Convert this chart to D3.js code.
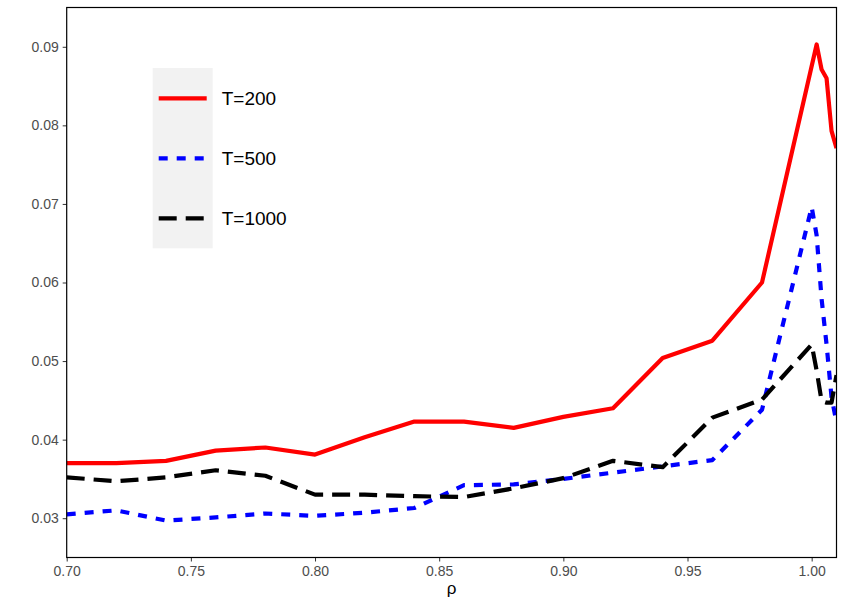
<!DOCTYPE html>
<html>
<head>
    <meta charset="utf-8">
    <style type="text/css">
        body {
            margin: 0;
            background: white;
        }
        text {
            font-family: "Liberation Sans", Arial, Helvetica, sans-serif;
        }
        .tick text {
            fill: #4d4d4d;
            font-size: 14px;
        }
        .tick line {
            stroke: #333;
        }
        path.series {
            fill: none;
            stroke-linecap: butt;
            stroke-linejoin: round;
        }
    </style>
</head>
<body>
<svg id="chart"></svg>
<script src="https://d3js.org/d3.v7.min.js"></script>
<script type="text/javascript">
// rho grid shared by all three series
var rho = [0.70, 0.72, 0.74, 0.76, 0.78, 0.80, 0.82, 0.84, 0.86, 0.88,
    0.90, 0.92, 0.94, 0.96, 0.98, 1.00, 1.002, 1.004, 1.006, 1.008, 1.01];

// null = no point read at that rho
var t200 = [0.0370, 0.0370, 0.0373, 0.0386, 0.0390, 0.0381, 0.0403, 0.0423, 0.0423, 0.0415,
    0.0429, 0.0440, 0.0504, 0.0526, 0.0600, null, 0.0903, 0.0871, 0.0860, 0.0793, 0.0771];
var t500 = [0.0305, 0.0310, 0.0297, 0.0301, 0.0306, 0.0303, 0.0307, 0.0313, 0.0342, 0.0343,
    0.0350, 0.0358, 0.0366, 0.0374, 0.0438, 0.0696, 0.0660, 0.0579, 0.0521, 0.0454, 0.0422];
var t1000 = [0.0352, 0.0347, 0.0352, 0.0361, 0.0354, 0.0330, 0.0330, 0.0328, 0.0327, 0.0338,
    0.0351, 0.0373, 0.0365, 0.0428, 0.0451, 0.0521, 0.0488, 0.0449, 0.0447, 0.0447, 0.0482];

var seriesNames = ["T=200", "T=500", "T=1000"];
var seriesColors = ["#ff0000", "#0000ff", "#000000"];
var seriesDash = [null, "9,9", "18,9"];

var xTicks = [0.70, 0.75, 0.80, 0.85, 0.90, 0.95, 1.00];
var yTicks = [0.03, 0.04, 0.05, 0.06, 0.07, 0.08, 0.09];

var W = 845, H = 610;
var margin = {top: 7.5, right: 8.5, bottom: 52.5, left: 66.7};
var pw = W - margin.left - margin.right,
    ph = H - margin.top - margin.bottom;

var svg = d3.select("#chart").attr("width", W).attr("height", H);

var x = d3.scaleLinear().domain([0.70, 1.01]).range([0, pw]);
var y = d3.scaleLinear().domain([0.025, 0.095]).range([ph, 0]);

var g = svg.append("g").attr("transform", "translate(" + margin.left + "," + margin.top + ")");

g.append("clipPath").attr("id", "panel-clip")
    .append("rect").attr("width", pw).attr("height", ph);

var series = [t200, t500, t1000].map(function(vals, i) {
    return {
        name: seriesNames[i],
        color: seriesColors[i],
        dash: seriesDash[i],
        points: rho.map(function(r, j) {
            return {x: r, v: vals[j]};
        }).filter(function(d) {
            return d.v != null;
        })
    };
});

var line = d3.line()
    .x(function(d) { return x(d.x); })
    .y(function(d) { return y(d.v); });

var lines = g.append("g").attr("clip-path", "url(#panel-clip)");
lines.selectAll("path")
    .data(series)
    .enter()
    .append("path")
    .attr("class", "series")
    .attr("d", function(d) { return line(d.points); })
    .attr("stroke", function(d) { return d.color; })
    .attr("stroke-width", 4.2)
    .attr("stroke-dasharray", function(d) { return d.dash; });

// axes
var xAxis = g.append("g")
    .attr("transform", "translate(0," + ph + ")")
    .call(d3.axisBottom(x).tickValues(xTicks).tickSize(4).tickPadding(5)
        .tickFormat(d3.format(".2f")));
var yAxis = g.append("g")
    .call(d3.axisLeft(y).tickValues(yTicks).tickSize(4).tickPadding(4)
        .tickFormat(d3.format(".2f")));
xAxis.select(".domain").remove();
yAxis.select(".domain").remove();

g.append("rect")
    .attr("width", pw).attr("height", ph)
    .attr("fill", "none")
    .attr("stroke", "black")
    .attr("stroke-width", 1.2);

svg.append("text")
    .attr("x", margin.left + pw / 2)
    .attr("y", 594)
    .attr("text-anchor", "middle")
    .style("font-size", "17px")
    .attr("fill", "black")
    .text("ρ");

// legend
var legend = svg.append("g").attr("transform", "translate(152.7,68)");
legend.append("rect")
    .attr("width", 60).attr("height", 180.3)
    .attr("fill", "#f2f2f2");

var item = legend.selectAll("g.item")
    .data(series)
    .enter()
    .append("g")
    .attr("class", "item")
    .attr("transform", function(d, i) { return "translate(0," + (30.3 + i * 60) + ")"; });

item.append("line")
    .attr("x1", 6).attr("x2", 54)
    .attr("stroke", function(d) { return d.color; })
    .attr("stroke-width", 4.2)
    .attr("stroke-dasharray", function(d) { return d.dash; });

item.append("text")
    .attr("x", 69)
    .attr("dy", "0.35em")
    .style("font-size", "19px")
    .attr("fill", "black")
    .text(function(d) { return d.name; });
</script>
</body>
</html>
